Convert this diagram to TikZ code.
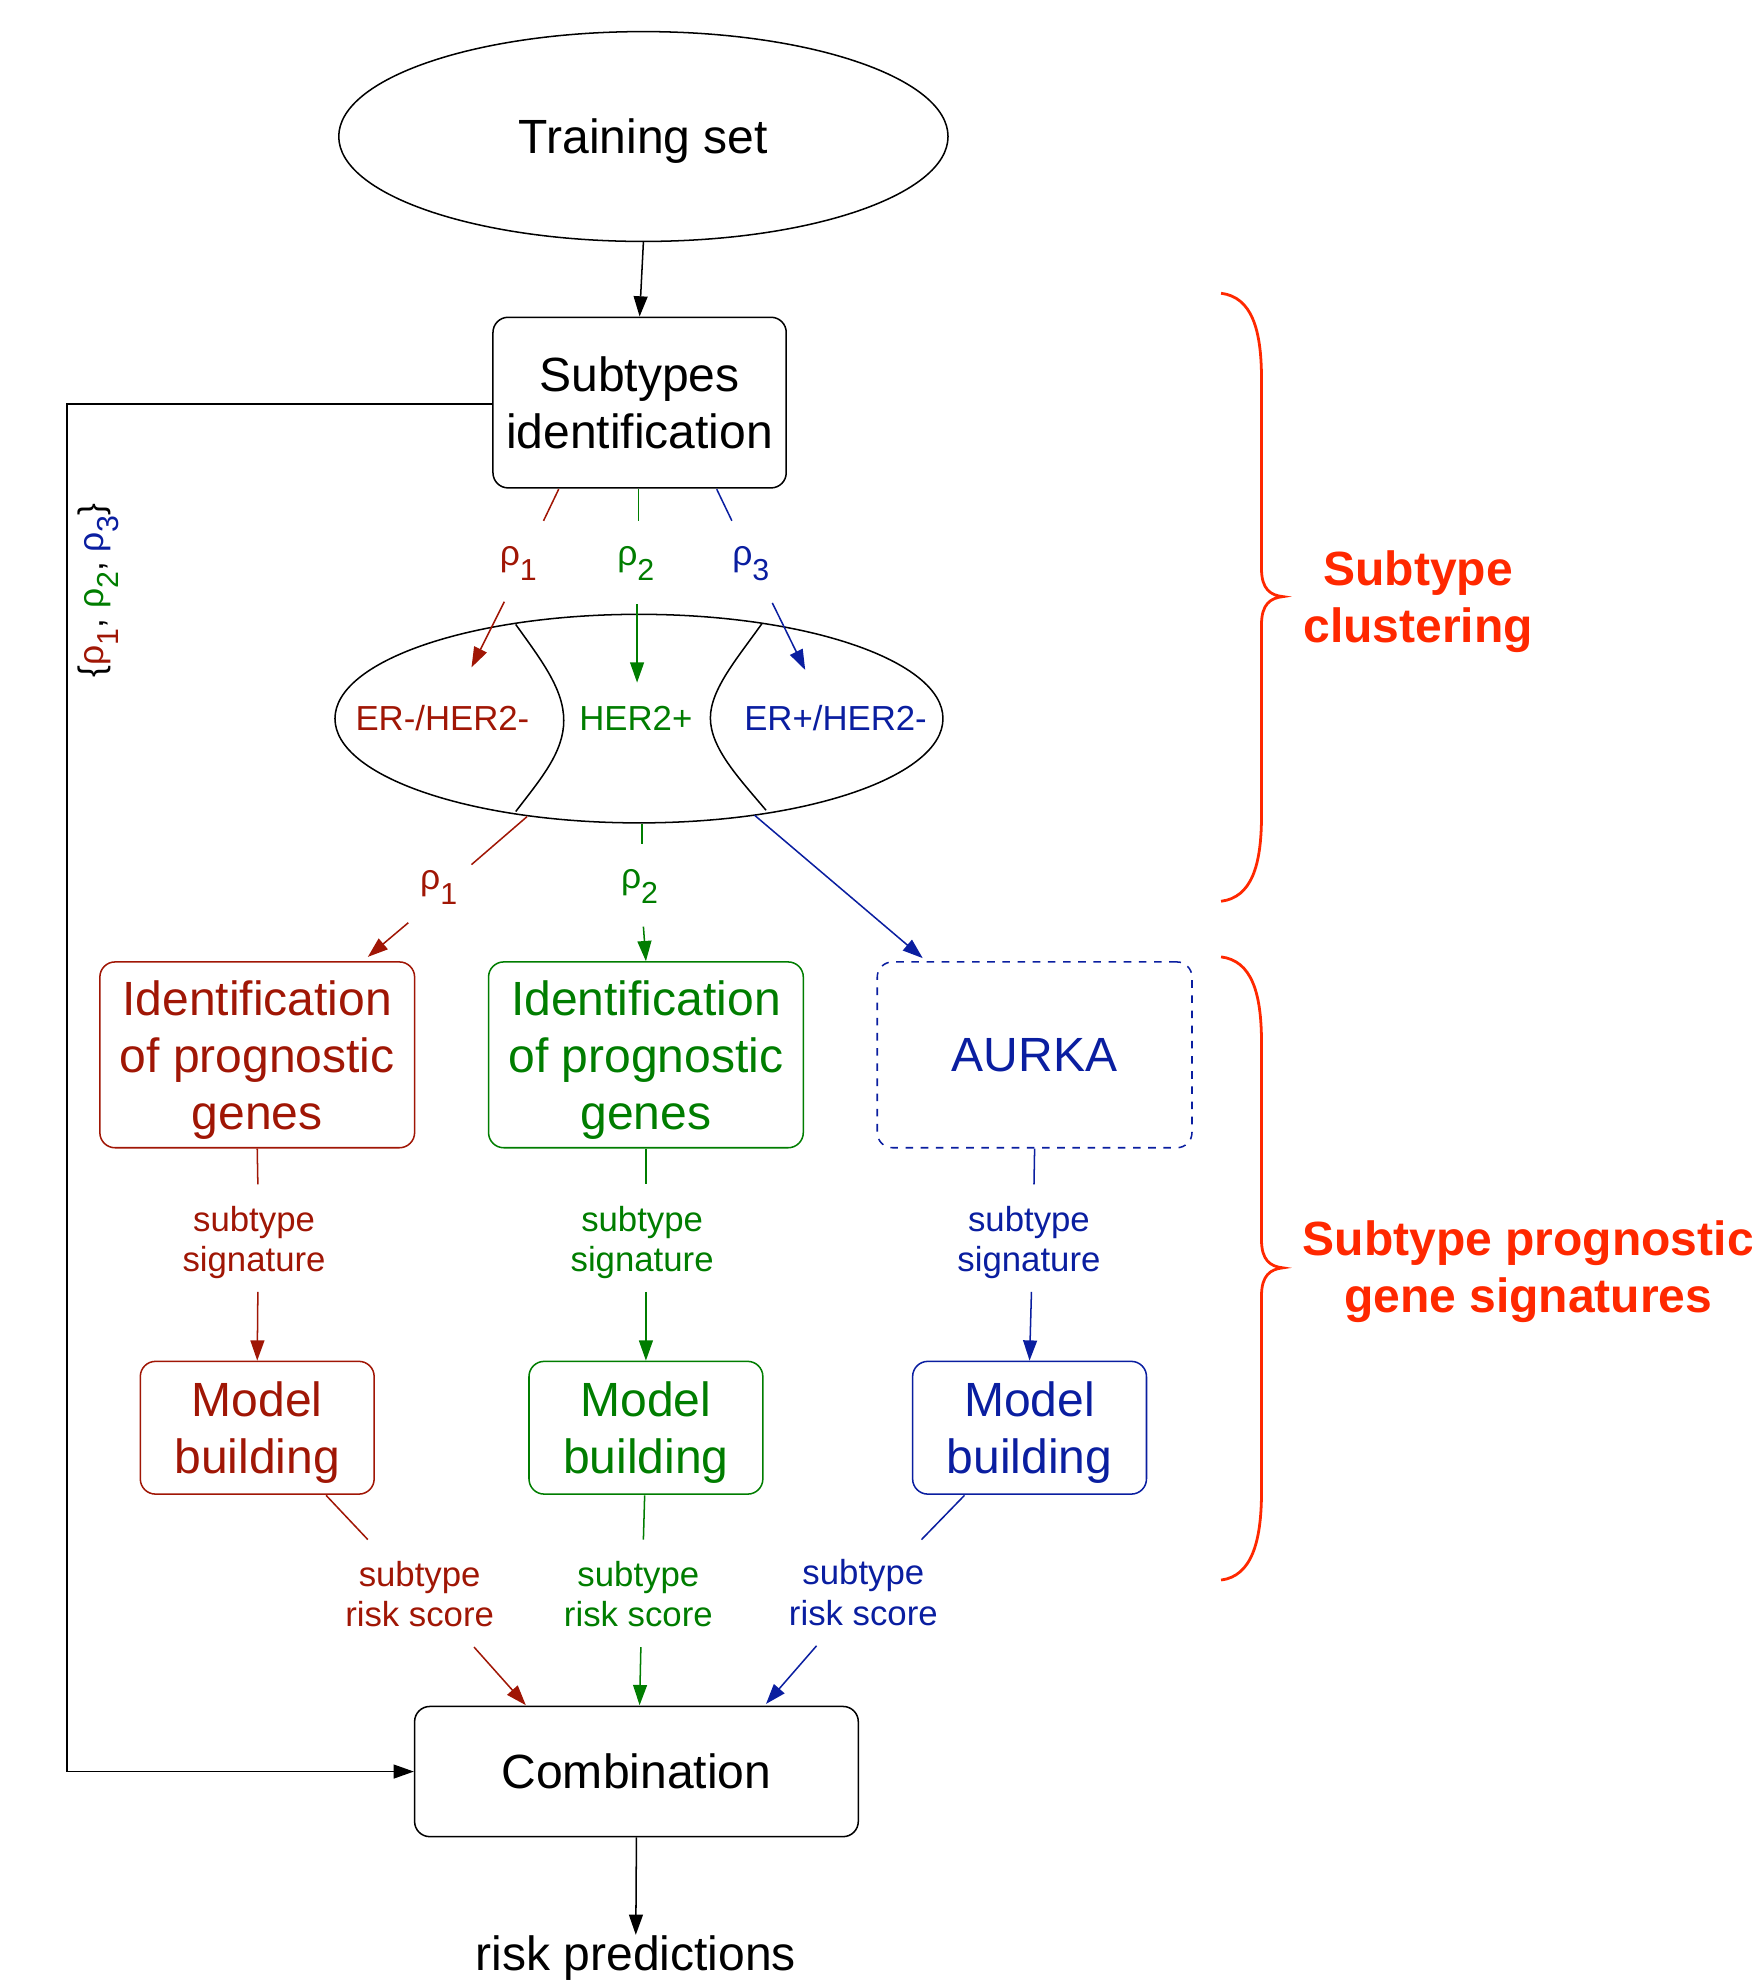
\documentclass[tikz,border=0pt]{standalone}
\usepackage{fontspec}
\setmainfont{Liberation Sans}
\usetikzlibrary{arrows.meta,shapes.geometric}
\definecolor{cR}{RGB}{160,22,5}
\definecolor{cG}{RGB}{0,125,0}
\definecolor{cB}{RGB}{10,30,160}
\definecolor{cO}{RGB}{255,40,0}
\newcommand{\bigf}{\fontsize{19}{22.5}\selectfont}
\newcommand{\smf}{\fontsize{13.75}{16}\selectfont}
\newcommand{\myrho}[1]{{\fontsize{14}{14}\selectfont ρ\raisebox{-6pt}{\fontsize{12}{12}\selectfont #1}}}
\begin{document}
\begin{tikzpicture}[x=0.5pt,y=-0.5pt,line width=0.6pt,
  arr/.style={-{Triangle[length=8pt,width=5.5pt]}},
  rbox/.style={draw,rounded corners=6pt,align=center,inner sep=0pt,font=\bigf},
  lbl/.style={align=center,inner sep=0pt,font=\smf},
  rlbl/.style={inner sep=0pt},
  brace/.style={draw=cO,line width=1.1pt}]
\useasboundingbox (0,0) rectangle (1386,1568);

% main nodes
\node[ellipse,draw,minimum width=241pt,minimum height=83pt,inner sep=0pt,font=\bigf] (train) at (509,108) {\smash{Training set}\rule{0pt}{13.7pt}};
\node[rbox,minimum width=116pt,minimum height=67.5pt] (subid) at (506,318.5) {Subtypes\\identification};
\node[ellipse,draw,minimum width=240.5pt,minimum height=82.5pt,inner sep=0pt] (clus) at (505.5,568.5) {};
\node[inner sep=0pt,font=\smf,text=cR] (erneg) at (350,568) {ER-/HER2-};
\node[inner sep=0pt,font=\smf,text=cG] (her2) at (503,568) {HER2+};
\node[inner sep=0pt,font=\smf,text=cB] (erpos) at (661,568) {ER+/HER2-};
\draw (408,494) .. controls (428,522) and (446,545) .. (446,570) .. controls (446,595) and (428,616) .. (408,642);
\draw (603,493) .. controls (584,520) and (562,545) .. (562,568) .. controls (562,592) and (585,616) .. (606,641);

\node[rbox,draw=cR,text=cR,minimum width=124.5pt,minimum height=73.5pt] (idR) at (203.5,834.5) {Identification\\of prognostic\\\smash{genes}};
\node[rbox,draw=cG,text=cG,minimum width=124.5pt,minimum height=73.5pt] (idG) at (511,834.5) {Identification\\of prognostic\\\smash{genes}};
\node[rbox,draw=cB,text=cB,dashed,minimum width=124.5pt,minimum height=73.5pt] (aurka) at (818.5,834.5) {AURKA};

\node[rbox,draw=cR,text=cR,minimum width=92.5pt,minimum height=52.5pt] (mR) at (203.5,1129.5) {Model\\\smash{building}};
\node[rbox,draw=cG,text=cG,minimum width=92.5pt,minimum height=52.5pt] (mG) at (511,1129.5) {Model\\\smash{building}};
\node[rbox,draw=cB,text=cB,minimum width=92.5pt,minimum height=52.5pt] (mB) at (814.5,1129.5) {Model\\\smash{building}};

\node[rbox,minimum width=175.5pt,minimum height=51.5pt] (comb) at (503.5,1401.5) {Combination};
\node[inner sep=0pt,font=\bigf] (risk) at (503,1549) {risk predictions};

% training -> subtypes
\draw[arr] (train.south) -- (subid.north);

% feedback loop
\coordinate (fb1) at (53,319.5);
\coordinate (fb2) at (53,1401.5);
\draw[arr] (subid.west |- fb1) -- (fb1) -- (fb2) -- (comb.west);
\node[rlbl,rotate=90] (rhoset) at (78,467) {\fontsize{14}{14}\selectfont \{\textcolor{cR}{\myrho{1}}, \textcolor{cG}{\myrho{2}}, \textcolor{cB}{\myrho{3}}\}};

% rho labels upper
\node[rlbl,text=cR] (r1a) at (410,446) {\myrho{1}};
\node[rlbl,text=cG] (r2a) at (503,446) {\myrho{2}};
\node[rlbl,text=cB] (r3a) at (594,446) {\myrho{3}};
\coordinate (a1s) at (442,387); \coordinate (a1e) at (430,412);
\coordinate (a1f) at (399,476); \coordinate (a1t) at (373,528);
\coordinate (a2s) at (505,387); \coordinate (a2e) at (505,412);
\coordinate (a2f) at (504,478); \coordinate (a2t) at (504,540);
\coordinate (a3s) at (567,387); \coordinate (a3e) at (579,412);
\coordinate (a3f) at (611,477); \coordinate (a3t) at (637,530);
\draw[cR] (a1s) -- (a1e); \draw[cR,arr] (a1f) -- (a1t);
\draw[cG] (a2s) -- (a2e); \draw[cG,arr] (a2f) -- (a2t);
\draw[cB] (a3s) -- (a3e); \draw[cB,arr] (a3f) -- (a3t);

% rho labels lower
\node[rlbl,text=cR] (r1b) at (347,702) {\myrho{1}};
\node[rlbl,text=cG] (r2b) at (506,701) {\myrho{2}};
\coordinate (b1s) at (417,646); \coordinate (b1e) at (373,684);
\coordinate (b1f) at (323,730); \coordinate (b1t) at (291,757);
\coordinate (b2s) at (508,652); \coordinate (b2e) at (508,668);
\coordinate (b2f) at (509,733);
\coordinate (b3s) at (597,645); \coordinate (b3t) at (730,758);
\draw[cR] (b1s) -- (b1e); \draw[cR,arr] (b1f) -- (b1t);
\draw[cG] (b2s) -- (b2e); \draw[cG,arr] (b2f) -- (idG.north);
\draw[cB,arr] (b3s) -- (b3t);

% signatures
\node[lbl,text=cR] (sR) at (201,983) {subtype\\signature};
\node[lbl,text=cG] (sG) at (508,983) {subtype\\signature};
\node[lbl,text=cB] (sB) at (814,983) {subtype\\signature};
\coordinate (c1e) at (204,937); \coordinate (c1f) at (204,1022);
\coordinate (c2e) at (511,937); \coordinate (c2f) at (511,1022);
\coordinate (c3e) at (818,937); \coordinate (c3f) at (816,1022);
\draw[cR] (idR.south) -- (c1e); \draw[cR,arr] (c1f) -- (mR.north);
\draw[cG] (idG.south) -- (c2e); \draw[cG,arr] (c2f) -- (mG.north);
\draw[cB] (aurka.south) -- (c3e); \draw[cB,arr] (c3f) -- (mB.north);

% risk scores
\node[lbl,text=cR] (kR) at (332,1261) {subtype\\risk score};
\node[lbl,text=cG] (kG) at (505,1261) {subtype\\risk score};
\node[lbl,text=cB] (kB) at (683,1260) {subtype\\risk score};
\coordinate (d1s) at (258,1183); \coordinate (d1e) at (291,1218);
\coordinate (d1f) at (375,1303); \coordinate (d1t) at (416,1349);
\coordinate (d2s) at (510,1183); \coordinate (d2e) at (509,1218);
\coordinate (d2f) at (507,1303); \coordinate (d2t) at (506,1349);
\coordinate (d3s) at (763,1183); \coordinate (d3e) at (729,1218);
\coordinate (d3f) at (646,1302); \coordinate (d3t) at (606,1348);
\draw[cR] (d1s) -- (d1e); \draw[cR,arr] (d1f) -- (d1t);
\draw[cG] (d2s) -- (d2e); \draw[cG,arr] (d2f) -- (d2t);
\draw[cB] (d3s) -- (d3e); \draw[cB,arr] (d3f) -- (d3t);

% output
\draw[arr] (comb.south) -- (risk.north);

% braces
\draw[brace] (966,232) .. controls (990,235) and (998,260) .. (998,300) -- (998,450) .. controls (998,466) and (1005,471) .. (1015,472) .. controls (1005,473) and (998,478) .. (998,494) -- (998,645) .. controls (998,685) and (990,710) .. (966,713);
\draw[brace] (966,757) .. controls (990,760) and (998,785) .. (998,825) -- (998,981) .. controls (998,997) and (1005,1002) .. (1015,1003) .. controls (1005,1004) and (998,1009) .. (998,1025) -- (998,1180) .. controls (998,1220) and (990,1247) .. (966,1250);
\node[align=center,inner sep=0pt,text=cO,font=\bigf\bfseries] (bl1) at (1122,476) {Subtype\\clustering};
\node[align=center,inner sep=0pt,text=cO,font=\bigf\bfseries] (bl2) at (1209,1006) {Subtype prognostic\\gene signatures};
\end{tikzpicture}
\end{document}
